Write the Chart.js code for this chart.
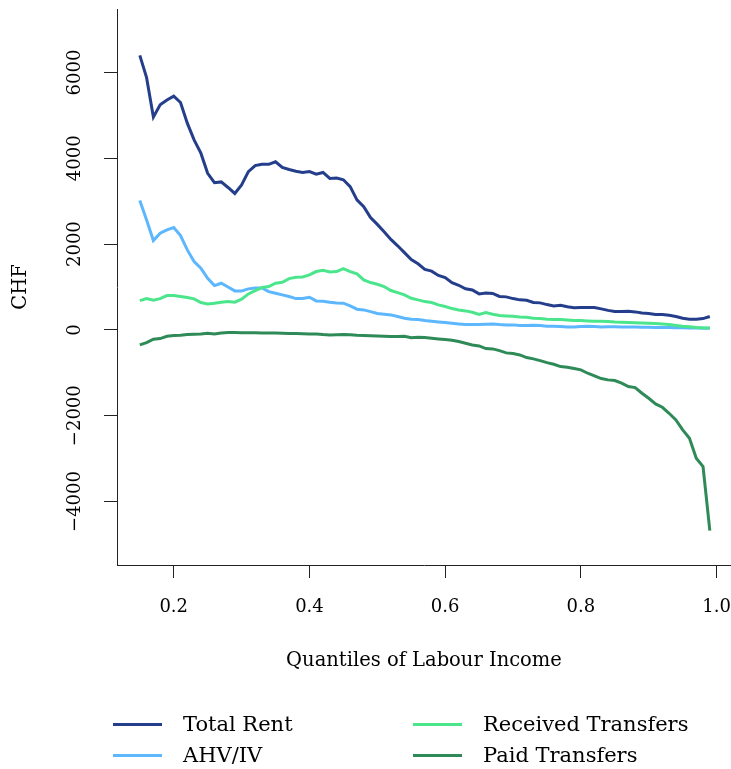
<!DOCTYPE html>
<html>
<head>
<meta charset="utf-8">
<script src="https://cdn.jsdelivr.net/npm/chart.js@4.4.1/dist/chart.umd.min.js"></script>
<style>
  html, body { margin: 0; padding: 0; background: #fff; overflow: hidden; }
  #wrap { position: relative; width: 731px; height: 769px; }
  #c { position: absolute; left: 0; top: 0; }
  .lg-text { position: absolute; font-family: "DejaVu Serif"; font-size: 21px; line-height: 24px; color: #000; white-space: nowrap; }
  .lg-line { position: absolute; height: 3px; }
</style>
</head>
<body>
<div id="wrap">
  <canvas id="c" width="731" height="769"></canvas>
  <div id="legend"></div>
</div>
<script>
// Quantiles of labour income (x values)
const quantiles = [
  0.15, 0.16, 0.17, 0.18, 0.19, 0.20, 0.21, 0.22, 0.23, 0.24,
  0.25, 0.26, 0.27, 0.28, 0.29, 0.30, 0.31, 0.32, 0.33, 0.34,
  0.35, 0.36, 0.37, 0.38, 0.39, 0.40, 0.41, 0.42, 0.43, 0.44,
  0.45, 0.46, 0.47, 0.48, 0.49, 0.50, 0.51, 0.52, 0.53, 0.54,
  0.55, 0.56, 0.57, 0.58, 0.59, 0.60, 0.61, 0.62, 0.63, 0.64,
  0.65, 0.66, 0.67, 0.68, 0.69, 0.70, 0.71, 0.72, 0.73, 0.74,
  0.75, 0.76, 0.77, 0.78, 0.79, 0.80, 0.81, 0.82, 0.83, 0.84,
  0.85, 0.86, 0.87, 0.88, 0.89, 0.90, 0.91, 0.92, 0.93, 0.94,
  0.95, 0.96, 0.97, 0.98, 0.99
];

// CHF per quantile
const totalRent = [
  6400, 5880, 4960, 5250, 5360, 5450, 5300, 4820, 4430, 4120,
  3650, 3430, 3450, 3320, 3180, 3380, 3690, 3830, 3860, 3860,
  3920, 3790, 3740, 3700, 3670, 3690, 3630, 3670, 3530, 3540,
  3500, 3340, 3030, 2870, 2620, 2460, 2290, 2110, 1960, 1800,
  1640, 1540, 1410, 1370, 1270, 1220, 1100, 1040, 960, 930,
  840, 860, 850, 780, 770, 730, 700, 690, 640, 630,
  590, 560, 575, 540, 515, 520, 520, 520, 490, 455,
  427, 427, 435, 420, 396, 381, 358, 358, 342, 311,
  272, 249, 249, 264, 311
];

const ahvIv = [
  3014, 2564, 2082, 2254, 2331, 2385, 2199, 1865, 1593, 1437,
  1204, 1033, 1088, 1000, 909, 909, 956, 979, 979, 893,
  855, 816, 777, 730, 730, 761, 676, 670, 645, 629,
  622, 559, 482, 466, 427, 381, 365, 350, 311, 272,
  249, 240, 218, 202, 186, 171, 155, 140, 124, 124,
  124, 132, 140, 124, 117, 117, 101, 101, 109, 101,
  86, 86, 78, 70, 70, 78, 86, 78, 70, 72,
  72, 70, 68, 65, 62, 60, 58, 55, 55, 50,
  48, 45, 42, 40, 39
];

const receivedTransfers = [
  683, 730, 691, 730, 800, 800, 777, 754, 723, 637,
  606, 622, 645, 660, 645, 715, 839, 917, 987, 1010,
  1088, 1111, 1196, 1228, 1235, 1282, 1360, 1390, 1352, 1360,
  1430, 1360, 1305, 1166, 1103, 1064, 1010, 917, 870, 816,
  738, 700, 660, 637, 583, 544, 497, 466, 443, 412,
  358, 404, 365, 334, 326, 318, 303, 295, 272, 264,
  249, 241, 241, 233, 218, 218, 210, 202, 202, 194,
  182, 176, 171, 168, 163, 156, 148, 136, 124, 105,
  85, 72, 58, 48, 42
];

const paidTransfers = [
  -350, -295, -218, -202, -148, -132, -124, -109, -101, -93,
  -78, -93, -70, -62, -62, -64, -66, -68, -70, -72,
  -75, -78, -82, -85, -90, -95, -98, -110, -118, -115,
  -110, -115, -125, -130, -138, -145, -150, -155, -155, -150,
  -185, -170, -179, -194, -210, -225, -241, -272, -311, -350,
  -373, -435, -443, -482, -536, -550, -583, -645, -676, -715,
  -762, -800, -855, -870, -901, -932, -1010, -1072, -1134, -1165,
  -1181, -1243, -1321, -1344, -1476, -1593, -1725, -1803, -1943, -2098,
  -2331, -2525, -2991, -3186, -4678
];

const seriesNames = ['Total Rent', 'AHV/IV', 'Received Transfers', 'Paid Transfers'];
const seriesColors = ['#243e8c', '#5cb7ff', '#4be68c', '#2e8b57'];
const xTicks = [0.2, 0.4, 0.6, 0.8, 1.0];
const yTicks = [-4000, -2000, 0, 2000, 4000, 6000];

const FONT = '"DejaVu Serif"';
const TICK_SIZE = 18;
const TICK_LEN = 13;
const AXIS_W = 117;      // width reserved for the y axis
const Y_LABEL_X = 75;    // centre of rotated y tick labels

const fmtY = v => (v < 0 ? '\u2212' + Math.abs(v) : String(v));

// Widest y label decides where Chart.js centres the rotated labels
const mctx = document.createElement('canvas').getContext('2d');
mctx.font = TICK_SIZE + 'px ' + FONT;
const widestY = Math.max(...yTicks.map(v => mctx.measureText(fmtY(v)).width));
const yPad = AXIS_W - TICK_LEN - Y_LABEL_X - widestY / 2;

const seriesValues = [totalRent, ahvIv, receivedTransfers, paidTransfers];
const datasets = seriesValues.map((vals, i) => ({
  label: seriesNames[i],
  data: vals.map((v, j) => ({ x: quantiles[j], y: v })),
  borderColor: seriesColors[i],
  backgroundColor: seriesColors[i],
  borderWidth: 3,
  pointRadius: 0,
  tension: 0,
  fill: false,
  order: seriesNames.length - i
}));

const axisGrid = { drawOnChartArea: false, drawTicks: true, tickLength: TICK_LEN, color: '#222', lineWidth: 1 };
const axisBorder = { display: true, color: '#222', width: 1 };

new Chart(document.getElementById('c'), {
  type: 'line',
  data: { datasets },
  options: {
    responsive: false,
    animation: false,
    devicePixelRatio: 1,
    layout: { padding: { top: 9, left: 0, right: 0, bottom: 0 } },
    plugins: { legend: { display: false }, tooltip: { enabled: false } },
    scales: {
      x: {
        type: 'linear',
        min: 0.1164,
        max: 1.0212,
        afterBuildTicks: s => { s.ticks = xTicks.map(v => ({ value: v })); },
        afterFit: s => { s.height = 204; s.paddingLeft = 0; s.paddingRight = 0; },
        ticks: {
          font: { family: FONT, size: TICK_SIZE },
          color: '#000',
          padding: 19,
          autoSkip: false,
          minRotation: 0,
          maxRotation: 0,
          callback: v => Number(v).toFixed(1)
        },
        grid: axisGrid,
        border: axisBorder,
        title: {
          display: true,
          text: 'Quantiles of Labour Income',
          color: '#000',
          font: { family: FONT, size: 19.5 },
          padding: { top: 0, bottom: 96 }
        }
      },
      y: {
        type: 'linear',
        min: -5480,
        max: 7480,
        afterBuildTicks: s => { s.ticks = yTicks.map(v => ({ value: v })); },
        afterFit: s => { s.width = AXIS_W; s.paddingTop = 0; s.paddingBottom = 0; },
        ticks: {
          font: { family: FONT, size: TICK_SIZE },
          color: '#000',
          padding: yPad,
          autoSkip: false,
          minRotation: 90,
          maxRotation: 90,
          crossAlign: 'center',
          callback: v => fmtY(v)
        },
        grid: axisGrid,
        border: axisBorder,
        title: {
          display: true,
          text: 'CHF',
          color: '#000',
          font: { family: FONT, size: 19.5 },
          padding: { top: 9, bottom: 0 }
        }
      }
    }
  }
});

// Two-column legend under the plot
const legend = document.getElementById('legend');
const colLine = [113, 413];
const colText = [183, 483];
const rowY = [724, 755];
seriesNames.forEach((name, i) => {
  const col = Math.floor(i / 2), row = i % 2;
  const line = document.createElement('div');
  line.className = 'lg-line';
  line.style.left = colLine[col] + 'px';
  line.style.width = '49px';
  line.style.top = (rowY[row] - 1.5) + 'px';
  line.style.background = seriesColors[i];
  legend.appendChild(line);
  const txt = document.createElement('div');
  txt.className = 'lg-text';
  txt.style.left = colText[col] + 'px';
  txt.style.top = (rowY[row] - 12) + 'px';
  txt.textContent = name;
  legend.appendChild(txt);
});
</script>
</body>
</html>
